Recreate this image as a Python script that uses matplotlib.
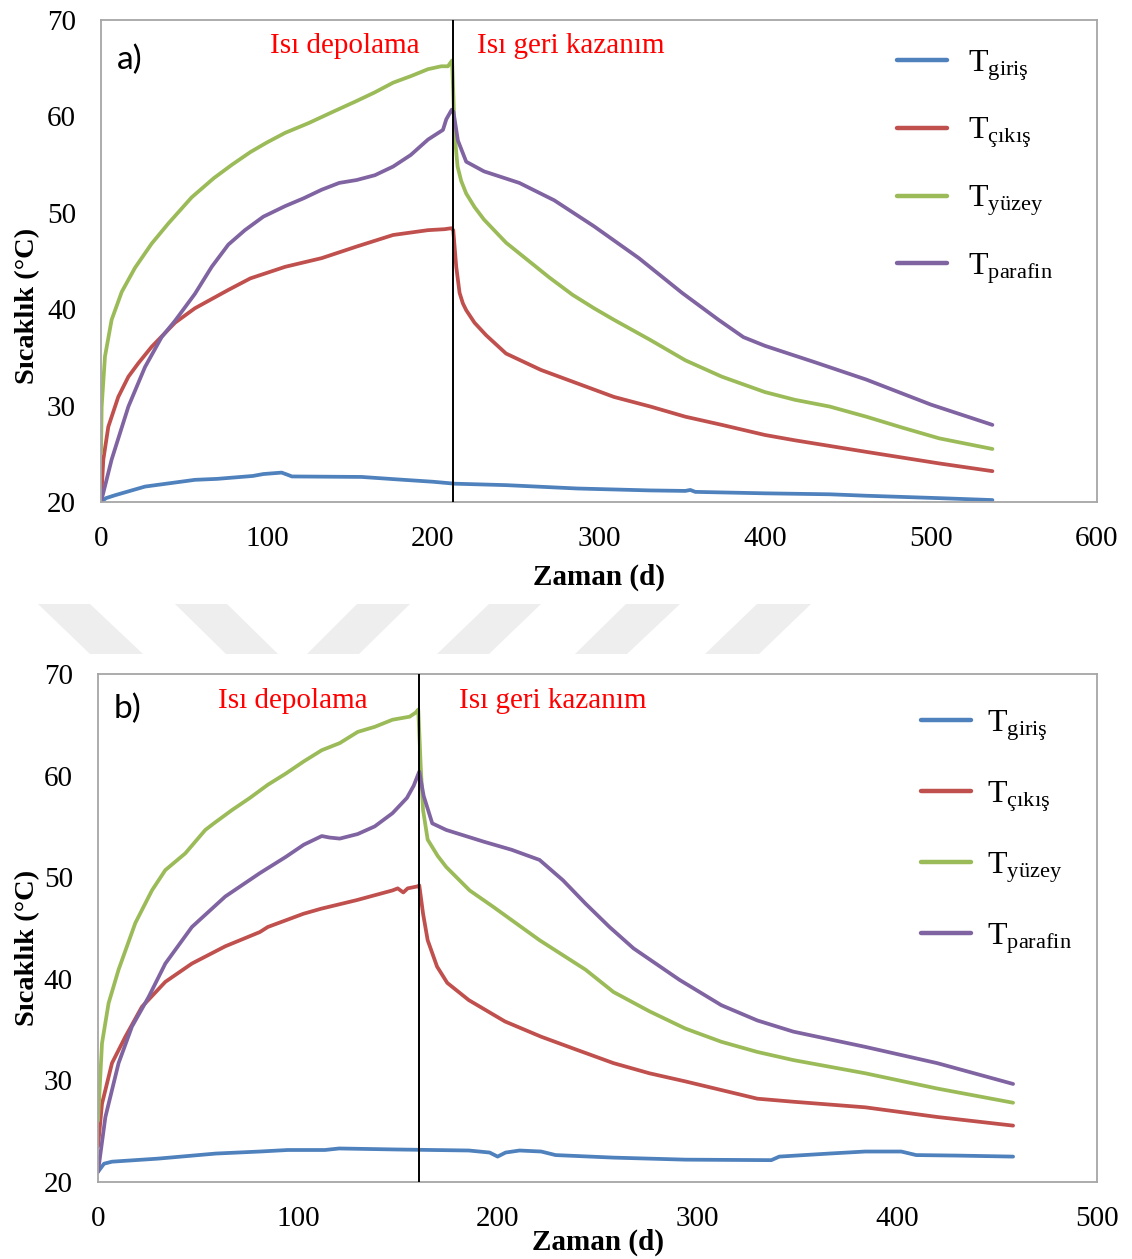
import matplotlib
matplotlib.use("Agg")
import matplotlib.pyplot as plt
from matplotlib.patches import Polygon

plt.rcParams['font.family'] = ['Liberation Serif', 'DejaVu Serif']
plt.rcParams['mathtext.fontset'] = 'custom'
plt.rcParams['mathtext.rm'] = 'Liberation Serif'
plt.rcParams['mathtext.it'] = 'Liberation Serif:italic'
plt.rcParams['mathtext.bf'] = 'Liberation Serif:bold'

# ---------------- data: chart a ----------------
t_giris_a = [0, 3, 8.4, 26.5, 56.6, 70, 91.4, 97.8, 108.8, 112, 115, 157, 178, 200, 213, 244, 287,
             331, 352, 355, 358, 400, 439, 461, 505, 537]
giris_a = [20.0, 20.4, 20.7, 21.6, 22.3, 22.4, 22.7, 22.9, 23.05, 22.85, 22.65, 22.6, 22.35, 22.1, 21.9,
           21.75, 21.4, 21.2, 21.15, 21.25, 21.05, 20.9, 20.8, 20.65, 20.4, 20.2]

t_cikis_a = [0, 0.4, 1.4, 4.4, 10.4, 16.5, 22.5, 30.5, 44.6, 56.6, 76.7, 90, 111, 133, 154, 176, 197,
             207, 211, 212.2, 213, 214, 216, 218, 220, 225, 232, 244, 265, 287, 309, 331, 352, 374,
             400, 418, 461, 505, 537]
cikis_a = [21.0, 21.2, 24.4, 27.8, 30.9, 33.0, 34.4, 36.1, 38.6, 40.1, 42.0, 43.2, 44.4, 45.3, 46.5,
           47.7, 48.2, 48.3, 48.4, 48.2, 46.5, 44.4, 41.7, 40.6, 39.9, 38.6, 37.3, 35.4, 33.7, 32.3,
           30.9, 29.9, 28.85, 28.0, 26.95, 26.4, 25.2, 24.0, 23.2]

t_yuzey_a = [0, 0.4, 2.4, 6.4, 12.5, 20.5, 30.5, 40.6, 54.6, 68, 79, 90, 100, 111, 125, 140, 154, 165,
             176, 187, 197, 205, 209, 211.5, 212.3, 213, 214.8, 217, 220, 225, 230.7, 244, 257, 270,
             284, 297, 309, 331, 352, 374, 400, 418, 439, 461, 483, 505, 537]
yuzey_a = [25.05, 29.9, 35.1, 38.9, 41.8, 44.3, 46.8, 48.9, 51.6, 53.6, 55.0, 56.3, 57.3, 58.3, 59.3,
           60.5, 61.6, 62.5, 63.5, 64.2, 64.9, 65.2, 65.2, 65.8, 62.0, 58.2, 54.8, 53.3, 52.0, 50.6,
           49.3, 46.9, 45.1, 43.3, 41.5, 40.1, 38.9, 36.8, 34.7, 33.0, 31.4, 30.6, 29.9, 28.85, 27.7,
           26.6, 25.5]

t_parafin_a = [0, 6.4, 16.5, 26.5, 36.5, 44.6, 56.6, 66.7, 76.7, 86.7, 97.8, 111, 122, 133, 143.5, 154,
               165, 176, 186.6, 197, 206, 208, 211.3, 212.3, 215, 220, 230.7, 252, 273, 297, 324,
               350, 372, 387, 400, 430, 461, 500, 537]
parafin_a = [20.0, 24.4, 29.9, 34.0, 37.1, 38.8, 41.6, 44.4, 46.7, 48.2, 49.6, 50.7, 51.5, 52.4, 53.1,
             53.4, 53.9, 54.8, 56.0, 57.6, 58.6, 59.7, 60.7, 60.5, 57.5, 55.3, 54.3, 53.1, 51.3, 48.6,
             45.3, 41.7, 38.9, 37.1, 36.2, 34.5, 32.7, 30.1, 28.0]

switch_a = 212.2

# ---------------- data: chart b ----------------
t_giris_b = [0, 3, 7, 30, 59, 81, 95, 113.5, 120.7, 149.5, 185.6, 196, 200, 204, 211, 221.8, 229, 258,
             294, 337, 341, 366, 384, 402, 409.5, 430, 458]
giris_b = [21.0, 21.8, 22.0, 22.3, 22.8, 23.0, 23.15, 23.15, 23.3, 23.2, 23.1, 22.9, 22.5, 22.9, 23.1,
           23.0, 22.65, 22.4, 22.2, 22.15, 22.5, 22.8, 23.0, 23.0, 22.65, 22.6, 22.5]

t_cikis_b = [0, 2, 7, 13.7, 22, 33.7, 47, 63.7, 81, 85, 102.8, 111.7, 129.6, 147.4, 150, 152.8, 155,
             160, 160.8, 162.7, 165, 169.7, 174.8, 185.6, 203.7, 221.8, 239.8, 258, 276, 294, 312,
             330, 348, 384, 420, 458]
cikis_b = [23.5, 27.7, 31.7, 34.3, 37.25, 39.7, 41.5, 43.2, 44.6, 45.1, 46.4, 46.9, 47.75, 48.7, 48.9,
           48.5, 48.9, 49.1, 49.2, 46.4, 43.8, 41.2, 39.6, 37.9, 35.8, 34.3, 33.0, 31.7, 30.7, 29.9,
           29.05, 28.2, 27.9, 27.35, 26.4, 25.55]

t_yuzey_b = [0, 2, 5.3, 10.3, 18.7, 27, 33.7, 43.7, 53.7, 58, 67, 76, 85, 94, 103, 112, 121, 130,
             138.5, 147.4, 156, 159, 160.3, 161.5, 162.7, 165, 170, 174.3, 186, 197.7, 221, 244, 258,
             276, 294, 312, 330, 348, 384, 420, 458]
yuzey_b = [26.0, 33.65, 37.6, 40.9, 45.5, 48.7, 50.7, 52.35, 54.65, 55.3, 56.6, 57.8, 59.1, 60.2, 61.4,
           62.5, 63.2, 64.3, 64.8, 65.5, 65.8, 66.2, 66.5, 61.0, 56.6, 53.7, 52.1, 51.0, 48.7, 47.1,
           43.8, 40.9, 38.7, 36.8, 35.1, 33.8, 32.8, 32.0, 30.7, 29.2, 27.8]

t_parafin_b = [0, 3.7, 10.3, 17, 25.3, 33.7, 47, 63.7, 81, 94, 103, 112, 116, 121, 130, 138.5, 147.4,
               154.6, 158, 160.8, 163, 167.3, 174.3, 193, 207, 221, 232.7, 244, 256, 268, 291, 312,
               330, 348, 384, 420, 458]
parafin_b = [21.0, 26.4, 31.7, 35.3, 38.2, 41.5, 45.1, 48.1, 50.4, 52.0, 53.2, 54.05, 53.9, 53.8, 54.25,
             55.0, 56.3, 57.8, 59.0, 60.4, 58.0, 55.3, 54.65, 53.5, 52.7, 51.7, 49.7, 47.4, 45.1, 43.0,
             39.9, 37.4, 35.9, 34.8, 33.3, 31.7, 29.65]

switch_b = 160.8

# ---------------- labels / styles ----------------
series_labels = [r'T$_{\mathrm{giriş}}$', r'T$_{\mathrm{çıkış}}$',
                 r'T$_{\mathrm{yüzey}}$', r'T$_{\mathrm{parafin}}$']
colors = ['#4F81BD', '#C0504D', '#9BBB59', '#8064A2']
yticks = [20, 30, 40, 50, 60, 70]
xticks_a = [0, 100, 200, 300, 400, 500, 600]
xticks_b = [0, 100, 200, 300, 400, 500]
xlabel = 'Zaman (d)'
ylabel = 'Sıcaklık (°C)'
phase1 = 'Isı depolama'
phase2 = 'Isı geri kazanım'

W, H = 1132, 1259
fig = plt.figure(figsize=(W / 100, H / 100), dpi=100)

def px_axes(l, t, r, b):
    return fig.add_axes([l / W, 1 - b / H, (r - l) / W, (b - t) / H])

ax_a = px_axes(101, 20, 1097, 502)
ax_b = px_axes(98, 674, 1097, 1182)

# watermark stripes (between panels)
stripes = [
    [(38, 604), (90, 604), (143, 654), (90, 654)],
    [(175, 604), (227, 604), (278, 654), (226, 654)],
    [(357, 604), (410, 604), (359, 654), (307, 654)],
    [(489, 604), (541, 604), (489, 654), (437, 654)],
    [(626, 604), (680, 604), (627, 654), (575, 654)],
    [(757, 604), (811, 604), (759, 654), (705, 654)],
]
for s in stripes:
    fig.patches.append(Polygon([(x / W, 1 - y / H) for x, y in s], closed=True,
                               transform=fig.transFigure, facecolor='#EEEEEE',
                               edgecolor='none', zorder=0))

def draw(ax, data, switch, xticks, xmax, tag, tag_y, p1x, p2x, leg_anchor, lspace, tpad,
         ylab_xy):
    for (t, v), c, lab in zip(data, colors, series_labels):
        ax.plot(t, v, color=c, lw=2.7, label=lab, solid_capstyle='round',
                solid_joinstyle='round')
    ax.axvline(switch, color='black', lw=1.4, zorder=5)
    ax.set_xlim(0, xmax)
    ax.set_ylim(20, 70)
    ax.set_xticks(xticks)
    ax.set_yticks(yticks)
    ax.tick_params(axis='both', length=0, labelsize=21)
    ax.tick_params(axis='y', pad=18)
    ax.tick_params(axis='x', pad=17)
    for sp in ax.spines.values():
        sp.set_color('#A6A6A6')
        sp.set_linewidth(1.3)
    ax.set_xlabel(xlabel, fontsize=21, fontweight='bold', labelpad=9)
    ax.set_ylabel(ylabel, fontsize=20.5, fontweight='bold')
    ax.yaxis.set_label_coords(*ylab_xy)
    ax.text(0.016, tag_y, tag, transform=ax.transAxes, fontsize=24, family='Lato',
            ha='left', va='center', color='black')
    ax.text(p1x, 0.946, phase1, transform=ax.transAxes, fontsize=21, color='#FF0000',
            ha='center', va='center')
    ax.text(p2x, 0.946, phase2, transform=ax.transAxes, fontsize=21, color='#FF0000',
            ha='center', va='center')
    leg = ax.legend(loc='upper left', bbox_to_anchor=leg_anchor, frameon=False, fontsize=23,
                    handlelength=1.55, handletextpad=tpad, labelspacing=lspace,
                    borderpad=0, borderaxespad=0)
    for h in leg.legend_handles:
        h.set_linewidth(3.2)
        h.set_solid_capstyle('round')

draw(ax_a, [(t_giris_a, giris_a), (t_cikis_a, cikis_a), (t_yuzey_a, yuzey_a),
            (t_parafin_a, parafin_a)], switch_a, xticks_a, 600, 'a)', 0.918, 0.245, 0.472,
     ((897 - 101) / 996, (502 - 48) / 482), 1.04, 0.68, (-0.061, 0.407))
draw(ax_b, [(t_giris_b, giris_b), (t_cikis_b, cikis_b), (t_yuzey_b, yuzey_b),
            (t_parafin_b, parafin_b)], switch_b, xticks_b, 500, 'b)', 0.932, 0.195, 0.455,
     ((921 - 98) / 999, (1182 - 708) / 508), 1.14, 0.52, (-0.058, 0.461))

ax_b.xaxis.labelpad = -2

fig.savefig('out.png', dpi=100)
